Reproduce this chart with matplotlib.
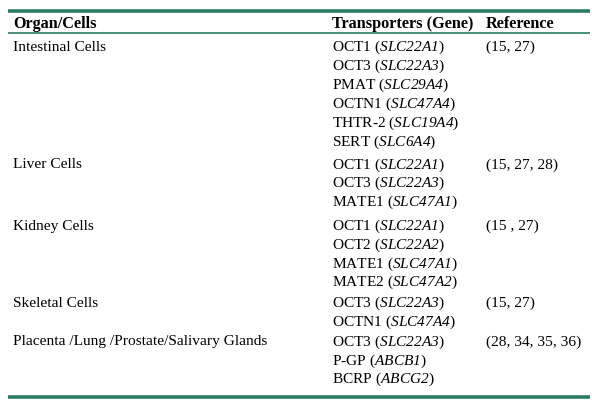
import matplotlib
matplotlib.use('Agg')
import matplotlib.pyplot as plt

# table content
headers = ['Organ/Cells', 'Transporters (Gene)', 'Reference']
organs = ['Intestinal Cells', 'Liver Cells', 'Kidney Cells', 'Skeletal Cells',
          'Placenta /Lung /Prostate/Salivary Glands']
transporters = [['OCT1', 'OCT3', 'PMAT', 'OCTN1', 'THTR-2', 'SERT'],
                ['OCT1', 'OCT3', 'MATE1'],
                ['OCT1', 'OCT2', 'MATE1', 'MATE2'],
                ['OCT3', 'OCTN1'],
                ['OCT3', 'P-GP', 'BCRP']]
genes = [['SLC22A1', 'SLC22A3', 'SLC29A4', 'SLC47A4', 'SLC19A4', 'SLC6A4'],
         ['SLC22A1', 'SLC22A3', 'SLC47A1'],
         ['SLC22A1', 'SLC22A2', 'SLC47A1', 'SLC47A2'],
         ['SLC22A3', 'SLC47A4'],
         ['SLC22A3', 'ABCB1', 'ABCG2']]
references = ['(15, 27)', '(15, 27, 28)', '(15 , 27)', '(15, 27)', '(28, 34, 35, 36)']

FONT = 'Liberation Serif'
FS = 11.1
plt.rcParams['font.family'] = FONT
# math text only used for the gene names -> all italic (digits too)
plt.rcParams['mathtext.fontset'] = 'custom'
plt.rcParams['mathtext.rm'] = FONT + ':italic'
plt.rcParams['mathtext.it'] = FONT + ':italic'
plt.rcParams['mathtext.default'] = 'it'
GREEN = '#2b7b66'

W, H = 600, 409
fig = plt.figure(figsize=(W/100, H/100), dpi=100)
ax = fig.add_axes([0, 0, 1, 1])
ax.set_xlim(0, W)
ax.set_ylim(H, 0)
ax.axis('off')

x_cols = [13, 332, 486]
x0, x1 = 8, 590
line_h = 18.9
gaps_after = [4, 4.5, 1.5, 1, 0]

# rules
ax.plot([x0, x1], [10.5, 10.5], color=GREEN, lw=2.6, solid_capstyle='butt')
ax.plot([x0, x1], [33, 33], color=GREEN, lw=1.2, solid_capstyle='butt')

for xc, h in zip(x_cols, headers):
    ax.text(xc, 28, h, fontsize=FS + 0.6, fontweight='bold', va='baseline', ha='left')

y = 51
last = y
for org, trs, gns, ref, gap in zip(organs, transporters, genes, references, gaps_after):
    ax.text(x_cols[0], y, org, fontsize=FS, va='baseline', ha='left')
    ax.text(x_cols[2], y, ref, fontsize=FS, va='baseline', ha='left')
    for t, g in zip(trs, gns):
        ax.text(x_cols[1], y, t + ' ($' + g + '$)', fontsize=FS,
                va='baseline', ha='left')
        last = y
        y += line_h
    y += gap

y_bot = last + 14
ax.plot([x0, x1], [y_bot, y_bot], color=GREEN, lw=2.6, solid_capstyle='butt')

fig.savefig('out.png', dpi=100, facecolor='white')
